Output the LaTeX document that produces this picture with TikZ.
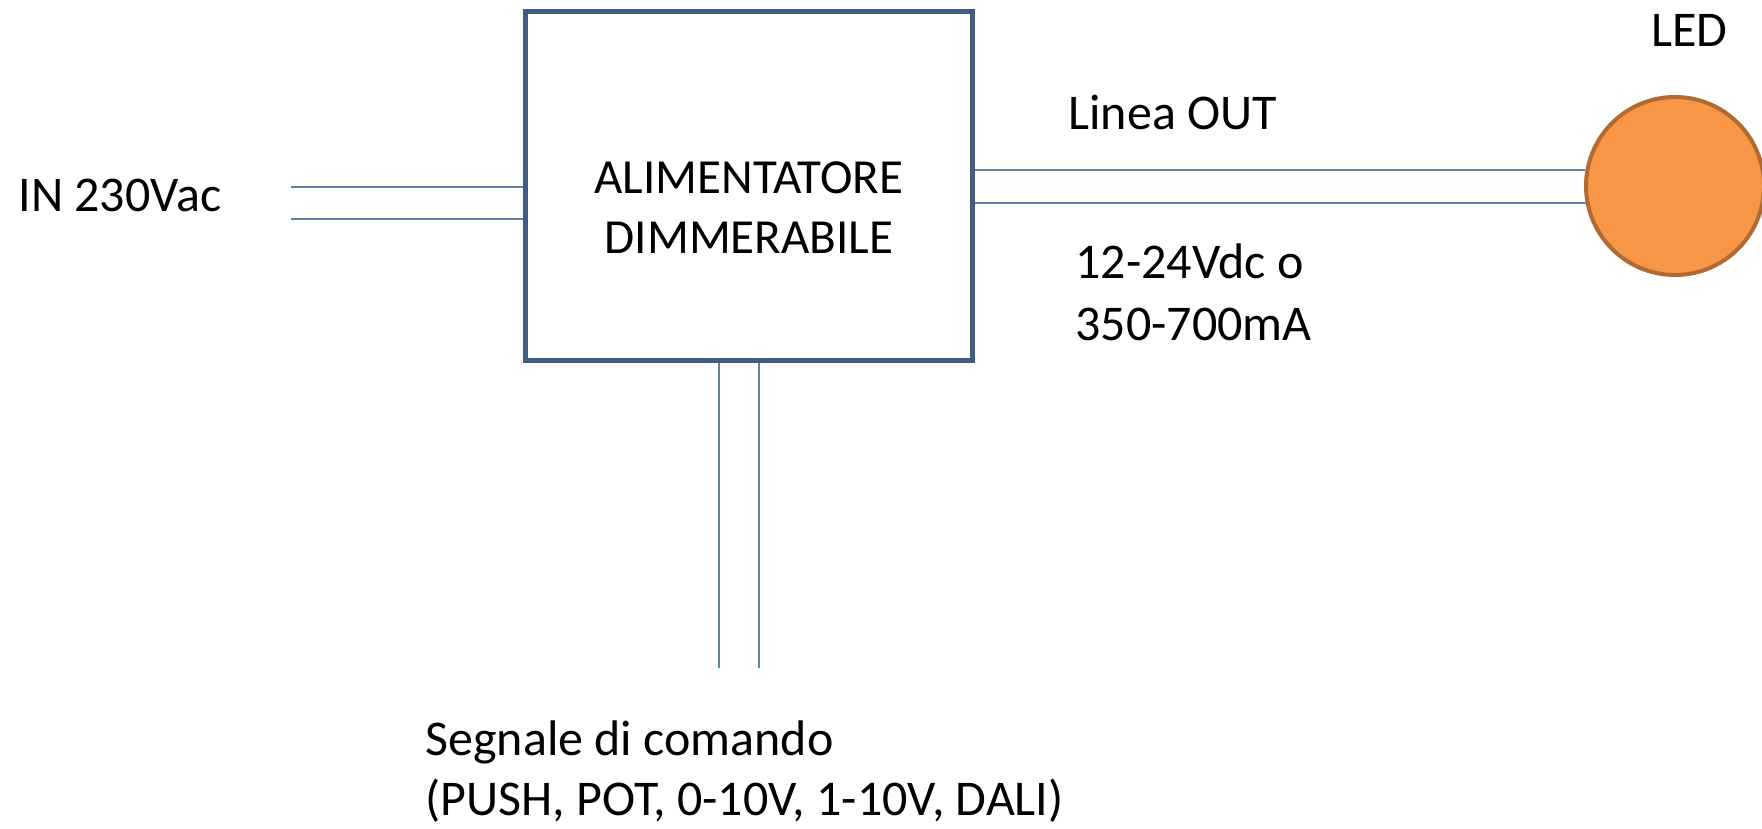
\documentclass[tikz,border=0pt]{standalone}
\usepackage{fontspec}
\setmainfont{Carlito}
\definecolor{boxc}{HTML}{3E5C86}
\definecolor{wirec}{HTML}{6482A6}
\definecolor{ledfill}{HTML}{F79646}
\definecolor{ledline}{HTML}{B06A32}
\begin{document}
\begin{tikzpicture}[x=0.5pt,y=-0.5pt,
  lbl/.style={font=\fontsize{25}{30}\selectfont, inner sep=0pt, anchor=base west},
  boxtxt/.style={font=\fontsize{24.5}{30}\selectfont, inner sep=0pt, anchor=base},
  wire/.style={draw=wirec, line width=1pt},
  blockbox/.style={draw=boxc, line width=2.5pt, minimum width=223.5pt, minimum height=174.5pt, inner sep=0pt},
  ledshape/.style={circle, fill=ledfill, draw=ledline, line width=2pt, minimum size=89pt, inner sep=0pt}]
\useasboundingbox (0,0) rectangle (1762,829);
\fill[white] (0,0) rectangle (1762,829);

\node[blockbox] (box) at (749,186) {};
\node[boxtxt] (t1) at (749,193) {ALIMENTATORE};
\node[boxtxt] (t2) at (749,253) {DIMMERABILE};

\node[ledshape] (led) at (1675,186) {};

% input wires
\coordinate (in1) at (291,187);
\coordinate (in2) at (291,219);
\draw[wire] (in1) -- (in1 -| box.west);
\draw[wire] (in2) -- (in2 -| box.west);

% output wires
\draw[wire] (led.170.5 -| box.east) -- (led.170.5);
\draw[wire] (led.191 -| box.east) -- (led.191);

% control wires
\coordinate (c1) at (719,668);
\coordinate (c2) at (759,668);
\draw[wire] (c1 |- box.south) -- (c1);
\draw[wire] (c2 |- box.south) -- (c2);

% labels
\node[lbl] (inlbl) at (18,212) {IN 230Vac};
\node[lbl] (ledlbl) at (1651,47) {LED};
\node[lbl] (outlbl) at (1068,130) {Linea OUT};
\node[lbl] (v1) at (1075,278) {12-24Vdc o};
\node[lbl] (v2) at (1075,340) {350-700mA};
\node[lbl] (s1) at (425,755) {Segnale di comando};
\node[lbl] (s2) at (425,815) {(PUSH, POT, 0-10V, 1-10V, DALI)};
\end{tikzpicture}
\end{document}
